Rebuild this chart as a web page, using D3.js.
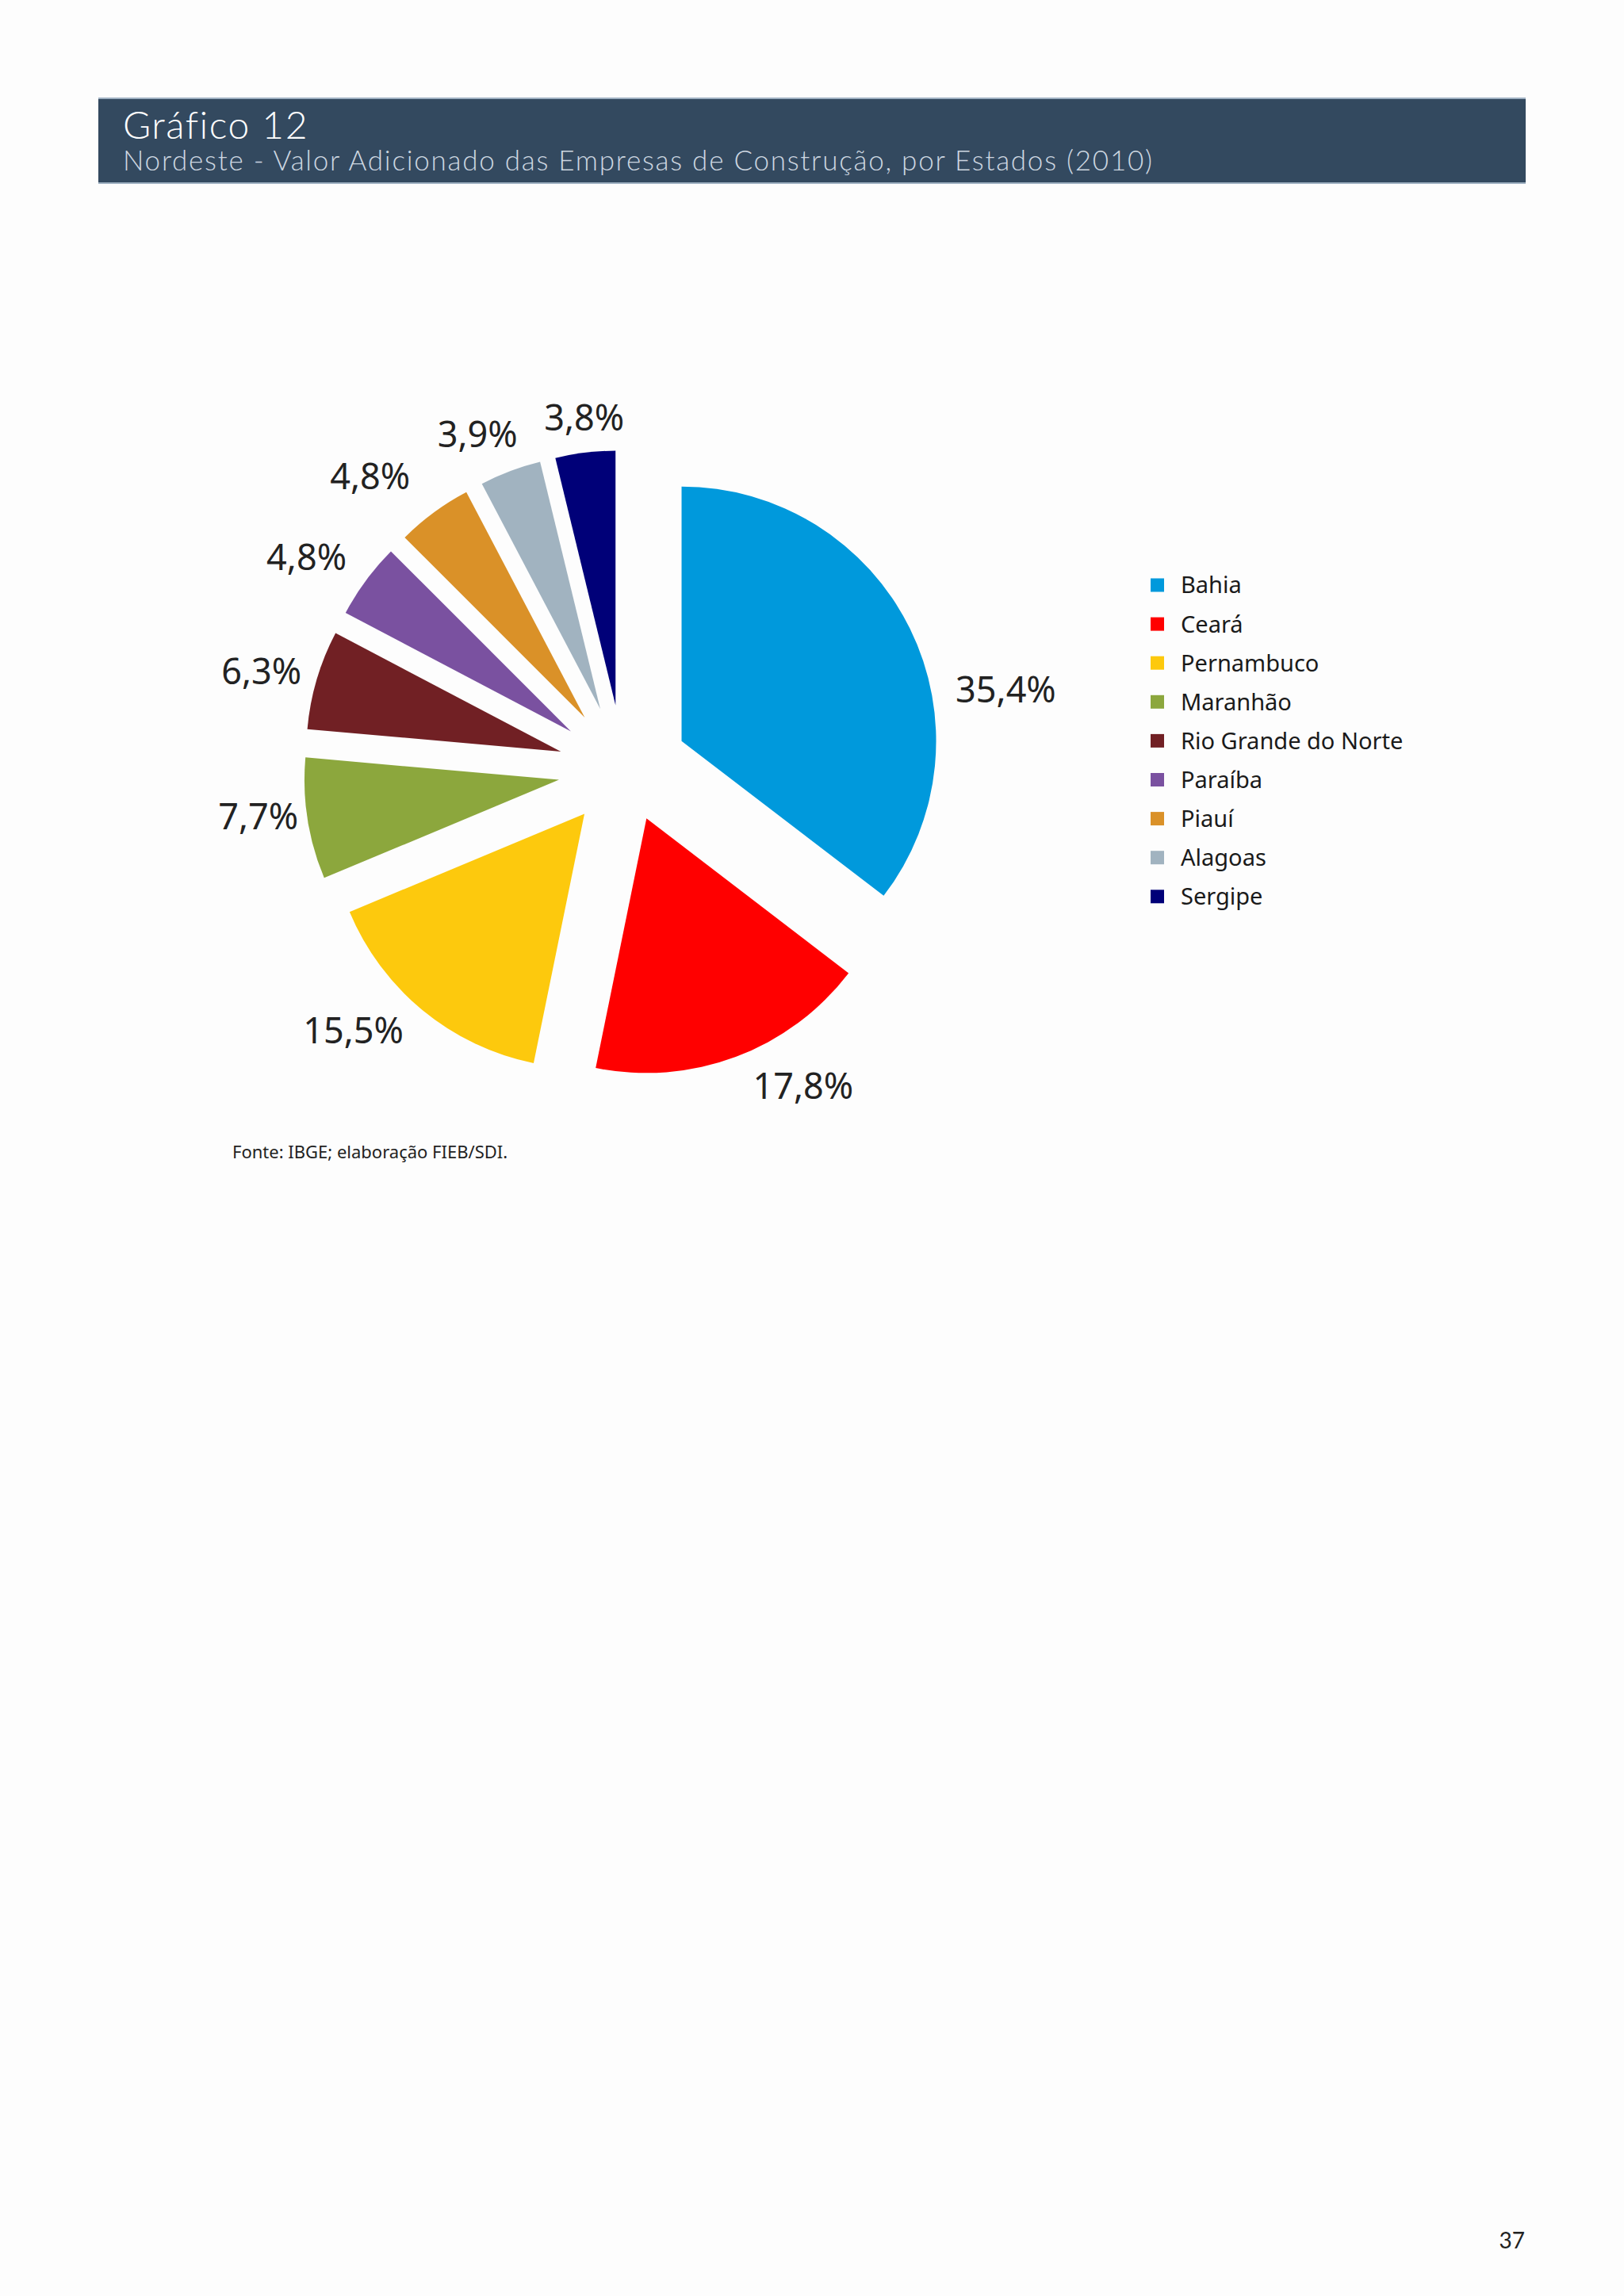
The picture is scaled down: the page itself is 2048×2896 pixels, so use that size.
<!DOCTYPE html>
<html>
<head>
<meta charset="utf-8">
<script src="https://cdn.jsdelivr.net/npm/d3@7"></script>
<style>
  body { margin: 0; background: #fdfdfd; }
  text { font-family: "Noto Sans", sans-serif; }
</style>
</head>
<body>
<svg id="chart"></svg>
<script>
const width = 2048;
const height = 2896;

// data
const states = ["Bahia", "Ceará", "Pernambuco", "Maranhão", "Rio Grande do Norte", "Paraíba", "Piauí", "Alagoas", "Sergipe"];
const shares = [35.4, 17.8, 15.5, 7.7, 6.3, 4.8, 4.8, 3.9, 3.8];
const colors = ["#0099dc", "#ff0000", "#fdc90d", "#8ca73d", "#712024", "#7a51a0", "#da9128", "#a1b3c0", "#000078"];

// layout per slice (explosion distance, label radius, label angle shift in degrees)
const explode = [82, 68, 74, 82, 82, 82, 82, 82, 82];
const explodeShift = [0, -5, 2, 0, 0, 0, 0, 0, 0];
const labelRadius = [493, 459, 473, 464, 473, 481, 489, 461, 447];
const labelShift = [14.4, -9.1, 6.6, 1.6, -1.1, -2.5, -4.4, -2.8, 0.5];

const svg = d3.select("#chart").attr("width", width).attr("height", height);

svg.append("rect").attr("width", width).attr("height", height).attr("fill", "#fdfdfd");

// header
svg.append("rect").attr("x", 124).attr("y", 124).attr("width", 1800).attr("height", 107).attr("fill", "#33495f");
svg.append("line").attr("x1", 124).attr("x2", 1924).attr("y1", 124).attr("y2", 124).attr("stroke", "#9fb1c2").attr("stroke-width", 2);
svg.append("line").attr("x1", 124).attr("x2", 1924).attr("y1", 231).attr("y2", 231).attr("stroke", "#9fb1c2").attr("stroke-width", 2);
svg.append("text").attr("x", 155).attr("y", 175).text("Gráfico 12")
  .style("font-family", "Lato, sans-serif").style("font-weight", 300).style("font-size", "48px")
  .style("letter-spacing", "1.5px").attr("fill", "#ffffff");
svg.append("text").attr("x", 155).attr("y", 215).text("Nordeste - Valor Adicionado das Empresas de Construção, por Estados (2010)")
  .style("font-family", "Lato, sans-serif").style("font-weight", 300).style("font-size", "35px")
  .style("letter-spacing", "1.75px").attr("fill", "#cdd7e1");

// pie
const cx = 786, cy = 971, radius = 321;
const pie = d3.pie().sort(null).value(d => d);
const arc = d3.arc().innerRadius(0).outerRadius(radius);
const arcs = pie(shares);

const g = svg.append("g").attr("transform", `translate(${cx},${cy})`);

g.selectAll("path").data(arcs).enter().append("path")
  .attr("d", arc)
  .attr("fill", (d, i) => colors[i])
  .attr("transform", (d, i) => {
    const mid = (d.startAngle + d.endAngle) / 2 + explodeShift[i] * Math.PI / 180;
    return `translate(${Math.sin(mid) * explode[i]},${-Math.cos(mid) * explode[i]})`;
  });

g.selectAll("text.pct").data(arcs).enter().append("text")
  .attr("class", "pct")
  .attr("x", (d, i) => {
    const a = (d.startAngle + d.endAngle) / 2 + labelShift[i] * Math.PI / 180;
    return Math.sin(a) * labelRadius[i];
  })
  .attr("y", (d, i) => {
    const a = (d.startAngle + d.endAngle) / 2 + labelShift[i] * Math.PI / 180;
    return -Math.cos(a) * labelRadius[i];
  })
  .attr("dy", "0.36em")
  .attr("text-anchor", "middle")
  .style("font-size", "45px")
  .attr("fill", "#222")
  .text(d => d3.format(".1f")(d.data).replace(".", ",") + "%");

// legend
const legend = svg.append("g").attr("transform", "translate(1451, 738)");
const item = legend.selectAll("g").data(states).enter().append("g")
  .attr("transform", (d, i) => `translate(0, ${i * 49.1})`);
item.append("rect").attr("x", 0).attr("y", -8.5).attr("width", 17).attr("height", 17).attr("fill", (d, i) => colors[i]);
item.append("text").attr("x", 38).attr("y", 0).attr("dy", "0.36em")
  .style("font-size", "29px").attr("fill", "#1a1a1a").text(d => d);

// source
svg.append("text").attr("x", 293).attr("y", 1461).text("Fonte: IBGE; elaboração FIEB/SDI.")
  .style("font-size", "22px").attr("fill", "#222");

// page number
svg.append("text").attr("x", 1923).attr("y", 2836).attr("text-anchor", "end").text("37")
  .style("font-family", "Lato, sans-serif").style("font-size", "28px").attr("fill", "#222");
</script>
</body>
</html>
